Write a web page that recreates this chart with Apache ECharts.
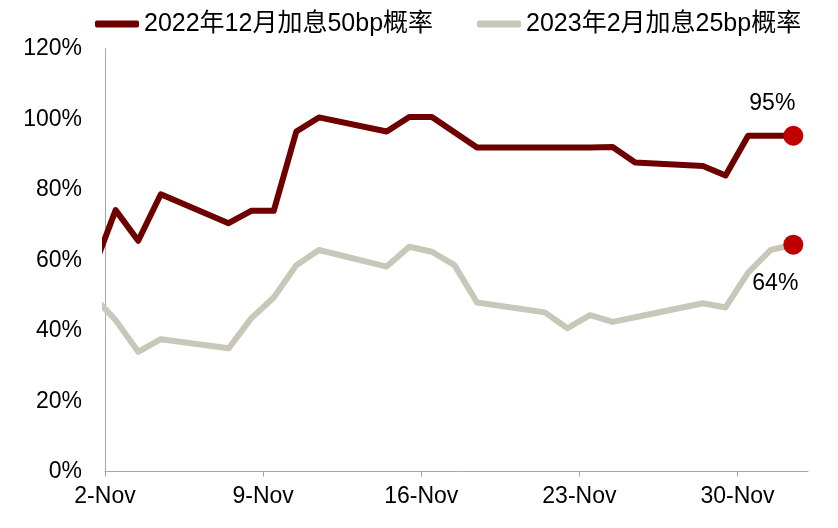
<!DOCTYPE html>
<html>
<head>
<meta charset="utf-8">
<script src="https://cdn.jsdelivr.net/npm/echarts@6/dist/echarts.min.js"></script>
<style>html,body{margin:0;padding:0;background:#fff;}#c{width:838px;height:528px;}</style>
</head>
<body>
<div id="c"></div>
<script>
// ---- data ----
const dates = ['2022-11-01','2022-11-02','2022-11-03','2022-11-04','2022-11-07','2022-11-08','2022-11-09','2022-11-10','2022-11-11',
  '2022-11-14','2022-11-15','2022-11-16','2022-11-17','2022-11-18','2022-11-21','2022-11-22','2022-11-23','2022-11-24','2022-11-25',
  '2022-11-28','2022-11-29','2022-11-30','2022-12-01','2022-12-02'];
const seriesNames = ['2022年12月加息50bp概率', '2023年2月加息25bp概率'];
const dec50 = [57.2, 74.2, 65.5, 78.7, 70.5, 74.0, 74.0, 96.5, 100.5, 96.5, 100.6, 100.6, 96.3, 92.0, 92.0, 92.0, 92.0, 92.1, 87.7, 86.7, 84.0, 95.3, 95.3, 95.3];
const feb25 = [49.8, 43.0, 34.0, 37.6, 35.0, 43.5, 49.4, 58.6, 62.9, 58.2, 63.8, 62.4, 58.6, 48.0, 45.2, 40.7, 44.4, 42.5, 43.8, 47.8, 46.6, 56.5, 62.9, 64.4];
const xTickDays = [0, 7, 14, 21, 28];   // 2-Nov, 9-Nov, 16-Nov, 23-Nov, 30-Nov
const yTicks = [0, 20, 40, 60, 80, 100, 120];

// ---- build ----
const DAY = 86400000;
const base = Date.UTC(2022, 10, 2);
const months = ['Jan','Feb','Mar','Apr','May','Jun','Jul','Aug','Sep','Oct','Nov','Dec'];
function dayOf(s){ const p = s.split('-').map(Number); return (Date.UTC(p[0], p[1]-1, p[2]) - base) / DAY; }
const shift = 0.47; // day-slot boundary offset of ticks
const xs = dates.map(dayOf);
const FONT = "'Liberation Sans', Arial, 'Noto Sans CJK SC', sans-serif";
function mk(vals, lastLabelPos, lastOffset){
  return vals.map((v, i) => {
    if (i === vals.length - 1) {
      return {
        value: [xs[i], v],
        symbol: 'circle', symbolSize: 20,
        itemStyle: { color: '#C00000' },
        label: { show: true, position: lastLabelPos, offset: lastOffset,
          formatter: p => Math.round(p.value[1]) + '%',
          color: '#000', fontSize: 23, fontFamily: FONT }
      };
    }
    return { value: [xs[i], v] };
  });
}
const chart = echarts.init(document.getElementById('c'), null, { renderer: 'canvas' });
chart.setOption({
  animation: false,
  backgroundColor: '#fff',
  textStyle: { fontFamily: FONT },
  legend: {
    left: 90, top: 5,
    itemWidth: 44, itemHeight: 7, itemGap: 44,
    icon: 'roundRect',
    data: seriesNames,
    textStyle: { fontSize: 25, color: '#000', fontFamily: FONT, lineHeight: 28 }
  },
  grid: { left: 105, right: 30, top: 48.7, bottom: 56.3, containLabel: false },
  xAxis: {
    type: 'value', min: -shift, max: 30.65,
    axisLine: { show: true, onZero: false, lineStyle: { color: '#A6A6A6', width: 1 } },
    axisTick: { show: true, length: 5, lineStyle: { color: '#A6A6A6' }, customValues: xTickDays.map(d => d - shift) },
    axisLabel: {
      customValues: xTickDays.map(d => d - shift),
      formatter: v => { const d = new Date(base + Math.round(v) * DAY); return d.getUTCDate() + '-' + months[d.getUTCMonth()]; },
      color: '#000', fontSize: 23, margin: 13, fontFamily: FONT
    },
    splitLine: { show: false }
  },
  yAxis: {
    type: 'value', min: 0, max: 120, interval: 20,
    axisLine: { show: true, onZero: false, lineStyle: { color: '#A6A6A6', width: 1 } },
    axisTick: { show: false },
    axisLabel: { formatter: '{value}%', color: '#000', fontSize: 23, margin: 23, fontFamily: FONT },
    splitLine: { show: false }
  },
  series: [
    {
      name: seriesNames[0], type: 'line', clip: true,
      data: mk(dec50, 'top', [-21, -6]),
      symbol: 'none', showSymbol: true,
      color: '#6E0000',
      lineStyle: { color: '#6E0000', width: 6, join: 'round' },
      z: 3
    },
    {
      name: seriesNames[1], type: 'line', clip: true,
      data: mk(feb25, 'bottom', [-18, 12]),
      symbol: 'none', showSymbol: true,
      color: '#C8C7B9',
      lineStyle: { color: '#C8C7B9', width: 6, join: 'round' },
      z: 2
    }
  ]
});
</script>
</body>
</html>
